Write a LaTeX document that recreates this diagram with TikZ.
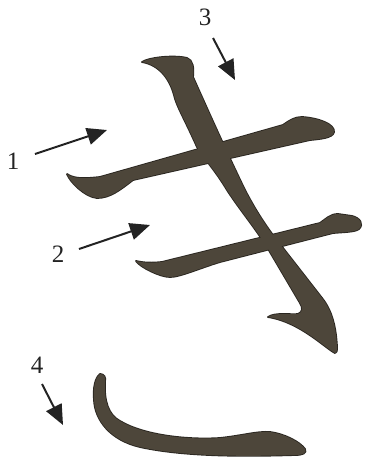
\documentclass[tikz,border=0pt]{standalone}
\usepackage{fontspec}
\setmainfont{Liberation Serif}
\usetikzlibrary{arrows.meta}
\definecolor{ink}{HTML}{4D463A}
\definecolor{edge}{HTML}{2A2620}
\definecolor{arrowc}{HTML}{232323}
\begin{document}
\begin{tikzpicture}[x=1pt,y=-1pt,
  outl/.style={draw=edge,line width=1.8pt,line join=round},
  brush/.style={fill=ink},
  arr/.style={draw=arrowc,line width=2pt,-{Triangle[length=20pt,width=17pt]}},
  lbl/.style={font=\fontsize{25}{25}\selectfont,text=arrowc,inner sep=0pt}]
\useasboundingbox (0,0) rectangle (364,463);
\def\strokeA{(67,174) .. controls (75,180) and (90,178) .. (100,177)
  -- (283,125) .. controls (290,120) and (295,117) .. (302,117)
  .. controls (318,118) and (335,124) .. (334,132)
  .. controls (333,138) and (320,139) .. (310,140)
  -- (133,180) .. controls (120,190) and (110,198) .. (97,198)
  .. controls (85,197) and (70,182) .. (67,174) -- cycle}
\def\strokeB{(136,261) .. controls (145,263) and (152,263) .. (162,262)
  -- (320,223) .. controls (326,219) and (330,214) .. (338,214)
  -- (352,216) .. controls (360,218) and (364,224) .. (359,229)
  .. controls (355,232) and (345,232) .. (333,233)
  -- (220,262) .. controls (200,268) and (180,277) .. (170,277)
  .. controls (160,277) and (140,267) .. (136,261) -- cycle}
\def\strokeC{(142,62) .. controls (150,57) and (175,55) .. (187,58)
  .. controls (193,60) and (194,68) .. (193,77)
  .. controls (210,115) and (228,155) .. (245,190)
  .. controls (258,215) and (270,232) .. (283,248)
  -- (322,298)
  .. controls (330,308) and (334,320) .. (336,335)
  .. controls (337,345) and (338,353) .. (335,353)
  .. controls (325,348) and (300,322) .. (268,317)
  .. controls (275,312) and (292,315) .. (298,314)
  .. controls (303,312) and (303,308) .. (300,303)
  -- (267,247) .. controls (253,225) and (240,210) .. (227,190)
  .. controls (215,170) and (205,160) .. (197,147)
  .. controls (185,120) and (176,105) .. (174,95)
  .. controls (170,80) and (160,65) .. (142,62) -- cycle}
\def\strokeD{(100,374) .. controls (104,374) and (106,377) .. (105,382)
  .. controls (104,400) and (108,415) .. (120,421)
  .. controls (145,436) and (190,440) .. (220,438)
  .. controls (240,436) and (258,431) .. (270,432)
  .. controls (285,434) and (300,442) .. (305,449)
  .. controls (307,453) and (303,455) .. (295,455)
  .. controls (260,456) and (190,458) .. (140,447)
  .. controls (110,440) and (95,420) .. (94,400)
  .. controls (93,388) and (95,378) .. (100,374) -- cycle}
% outlines first, then fills so crossings merge
\path[outl] \strokeA; \path[outl] \strokeB; \path[outl] \strokeC; \path[outl] \strokeD;
\path[brush] \strokeA; \path[brush] \strokeB; \path[brush] \strokeC; \path[brush] \strokeD;
% labels and arrows
\node[lbl] (l1) at (13,161) {1};
\node[lbl] (l2) at (58,254) {2};
\node[lbl] (l3) at (205,17) {3};
\node[lbl] (l4) at (37,365) {4};
\coordinate (s1) at (35,154); \coordinate (t1) at (107,130);
\coordinate (s2) at (79,249); \coordinate (t2) at (150,225);
\coordinate (s3) at (213,38); \coordinate (t3) at (235,80);
\coordinate (s4) at (42,384); \coordinate (t4) at (63,425);
\draw[arr] (s1) -- (t1);
\draw[arr] (s2) -- (t2);
\draw[arr] (s3) -- (t3);
\draw[arr] (s4) -- (t4);
\end{tikzpicture}
\end{document}
